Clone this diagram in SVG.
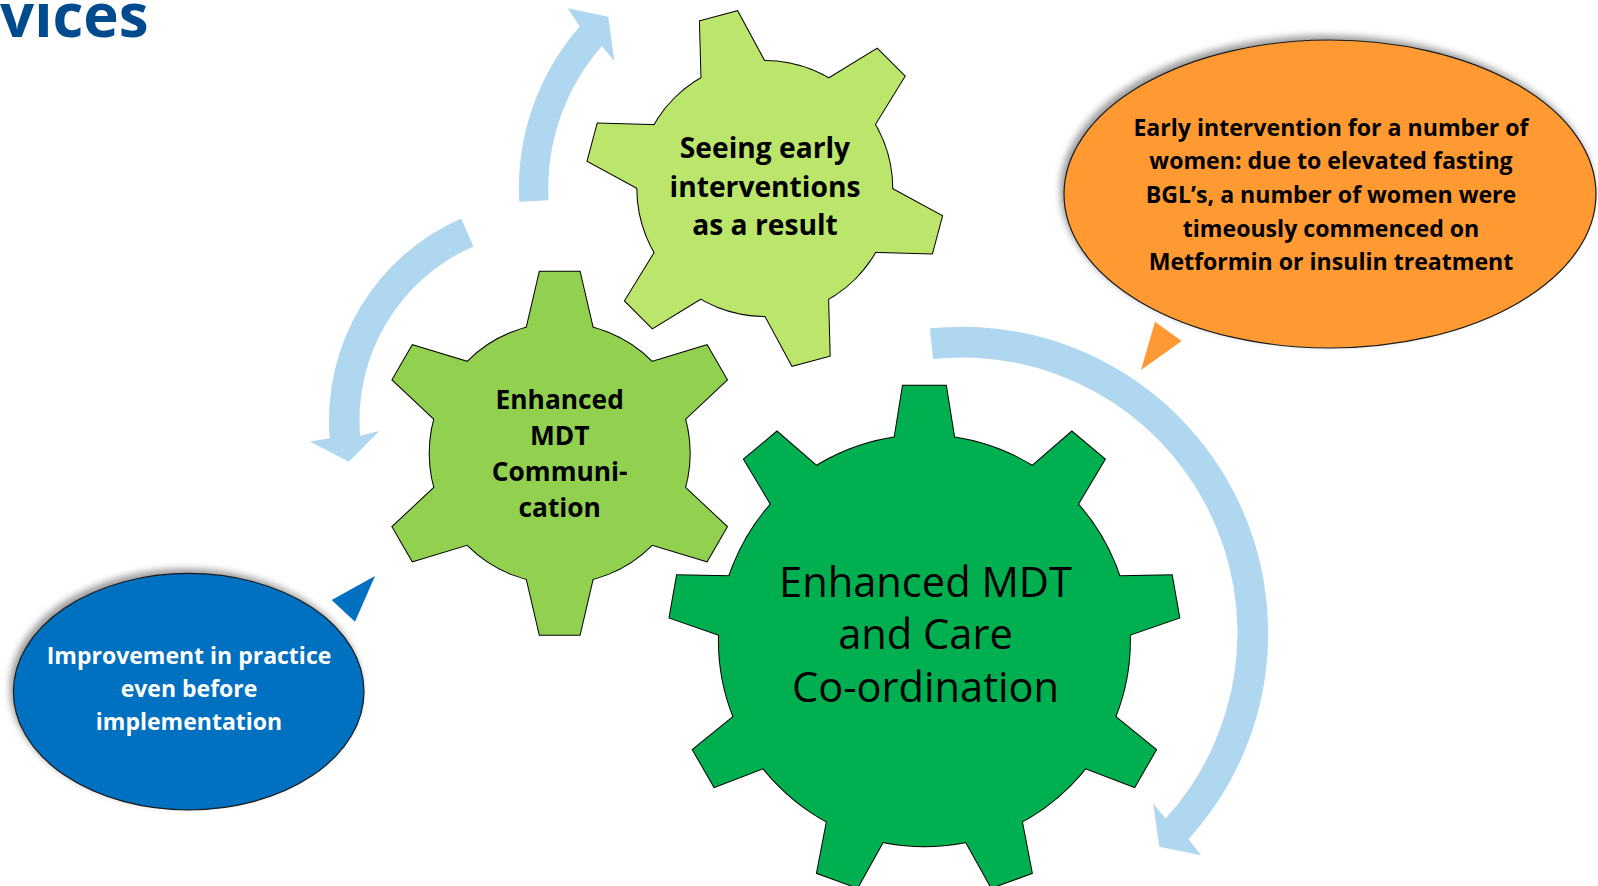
<svg xmlns="http://www.w3.org/2000/svg" xmlns:xlink="http://www.w3.org/1999/xlink" width="1598" height="886" viewBox="0 0 1598 886">
<defs>
<style>
.t{font-family:"Open Sans","Liberation Sans",sans-serif;text-anchor:middle;fill:#000}
.b{font-weight:700}
.arrow{fill:#B0D7F0}
.gl{stroke:#000;stroke-width:2;stroke-linejoin:miter}
.co{stroke:#1a1a1a;stroke-width:1.2}
</style>
<filter id="sh" x="-15%" y="-15%" width="130%" height="130%">
<feDropShadow dx="-3" dy="-4" stdDeviation="3.5" flood-color="#000" flood-opacity="0.4"/>
</filter>
<g id="g9">
<circle r="205.5"/>
<polygon id="t9" points="-31.9,-190 -21.5,-255 21.5,-255 31.9,-190"/>
<use href="#t9" transform="rotate(40)"/>
<use href="#t9" transform="rotate(80)"/>
<use href="#t9" transform="rotate(120)"/>
<use href="#t9" transform="rotate(160)"/>
<use href="#t9" transform="rotate(200)"/>
<use href="#t9" transform="rotate(240)"/>
<use href="#t9" transform="rotate(280)"/>
<use href="#t9" transform="rotate(320)"/>
</g>
<g id="g6m">
<circle r="130"/>
<polygon id="t6m" points="-36.2,-112 -20,-181.5 20,-181.5 36.2,-112"/>
<use href="#t6m" transform="rotate(60)"/>
<use href="#t6m" transform="rotate(120)"/>
<use href="#t6m" transform="rotate(180)"/>
<use href="#t6m" transform="rotate(240)"/>
<use href="#t6m" transform="rotate(300)"/>
</g>
<g id="g6l">
<circle r="127.5"/>
<polygon id="t6l" points="-35.7,-110 -19.4,-178.3 19.4,-178.3 35.7,-110" transform="rotate(-15)"/>
<use href="#t6l" transform="rotate(60)"/>
<use href="#t6l" transform="rotate(120)"/>
<use href="#t6l" transform="rotate(180)"/>
<use href="#t6l" transform="rotate(240)"/>
<use href="#t6l" transform="rotate(300)"/>
</g>
</defs>
<rect width="1598" height="886" fill="#fff"/>

<g id="title">
<text x="0" y="36.7" font-family="'Open Sans','Liberation Sans',sans-serif" font-weight="700" font-size="60" fill="#004B8D">vices</text>
</g>

<g id="connectors">
<path class="arrow" d="M 519.2,201.8 A 246 246 0 0 1 579.7,26.5 L 567.7,8.3 L 608.3,16.7 L 614.3,61 L 601.9,45.9 A 216.5 216.5 0 0 0 548.6,200.2 Z"/>
<path class="arrow" d="M 461.2,218.4 A 220.5 220.5 0 0 0 329.7,438.2 L 309.9,441.5 L 348.7,461.7 L 379.3,430.9 L 360.1,435.7 A 190 190 0 0 1 473.4,246.4 Z"/>
<path class="arrow" d="M 929.9,328.3 A 306.4 306.4 0 0 1 1188.5,839.2 L 1201.1,855.3 L 1159.3,846.8 L 1153,803.3 L 1165.7,818.4 A 275.5 275.5 0 0 0 933.1,359 Z"/>
</g>

<g id="gear-coordination">
<g transform="translate(924.4 640.8)">
<use href="#g9" class="gl" fill="#00B050"/>
<use href="#g9" fill="#00B050"/>
</g>
<text class="t" font-size="41.6"><tspan x="925.5" y="596.7">Enhanced MDT</tspan><tspan x="925.5" y="649.3">and Care</tspan><tspan x="925.5" y="701.7">Co-ordination</tspan></text>
</g>

<g id="gear-communication">
<g transform="translate(559.7 453.3)">
<use href="#g6m" class="gl" fill="#92D050"/>
<use href="#g6m" fill="#92D050"/>
</g>
<text class="t b" font-size="26.3"><tspan x="559.7" y="409">Enhanced</tspan><tspan x="559.7" y="445">MDT</tspan><tspan x="559.7" y="481">Communi-</tspan><tspan x="559.7" y="516.5">cation</tspan></text>
</g>

<g id="gear-early">
<g transform="translate(764.8 188.5)">
<use href="#g6l" class="gl" fill="#BBE66B"/>
<use href="#g6l" fill="#BBE66B"/>
</g>
<text class="t b" font-size="28.2"><tspan x="765" y="158.3">Seeing early</tspan><tspan x="765" y="196.7">interventions</tspan><tspan x="765" y="235">as a result</tspan></text>
</g>

<g id="callout-early">
<ellipse cx="1330" cy="194" rx="266" ry="154" fill="#FF9933" class="co" filter="url(#sh)"/>
<polygon points="1155,321.7 1181.7,341 1141,370" fill="#FF9933"/>
<text class="t b" font-size="23.1"><tspan x="1331" y="136">Early intervention for a number of</tspan><tspan x="1331" y="169.3">women: due to elevated fasting</tspan><tspan x="1331" y="203.3">BGL’s, a number of women were</tspan><tspan x="1331" y="236.7">timeously commenced on</tspan><tspan x="1331" y="270">Metformin or insulin treatment</tspan></text>
</g>

<g id="callout-improvement">
<ellipse cx="188.7" cy="691.7" rx="175.3" ry="118.3" fill="#0070C0" class="co" filter="url(#sh)"/>
<polygon points="331.7,600 375,576 355,621.7" fill="#0070C0"/>
<text class="t b" font-size="23" style="fill:#fff"><tspan x="189" y="664.3">Improvement in practice</tspan><tspan x="189" y="697.3">even before</tspan><tspan x="189" y="730">implementation</tspan></text>
</g>
</svg>
